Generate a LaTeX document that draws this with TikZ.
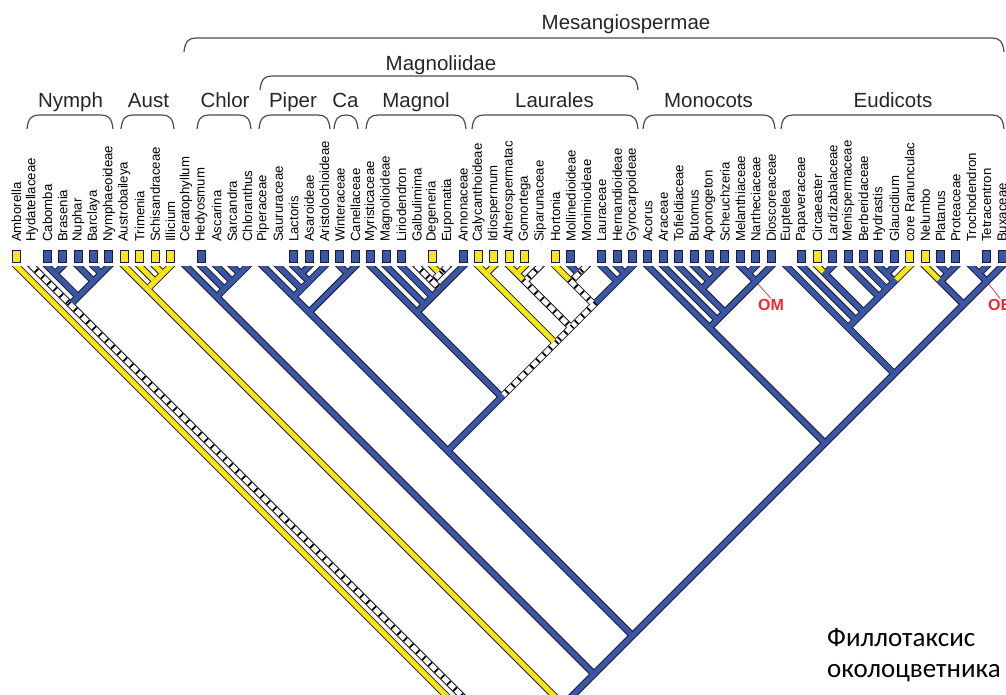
\documentclass[tikz,border=0pt]{standalone}
\usepackage{fontspec}
\setmainfont{Liberation Sans}
\newfontfamily\rufont{Carlito}
\definecolor{brblue}{RGB}{58,86,168}
\definecolor{bryel}{RGB}{248,230,28}
\definecolor{brout}{RGB}{28,28,48}
\definecolor{omred}{RGB}{230,45,55}
\newif\ifoutlinepass
\newcommand\BrDraw[4]{%
  \ifoutlinepass
    \draw[brpath, shorten <=#4, line width=7pt, draw=brout] (#2) -- (#3);
  \else
    \if#1Y\draw[brpath, shorten <=#4, line width=5pt, draw=bryel] (#2) -- (#3);\fi
    \if#1B\draw[brpath, shorten <=#4, line width=5pt, draw=brblue] (#2) -- (#3);\fi
    \if#1H\draw[brpath, shorten <=#4, line width=5pt, draw=white] (#2) -- (#3);
      \draw[brpath, shorten <=#4, line width=5pt, draw=black, dash pattern=on 1.8pt off 7pt] (#2) -- (#3);\fi
  \fi}
\newcommand\Tp[3]{\BrDraw{#1}{t#2}{#3}{-12pt}}
\newcommand\Nd[3]{\BrDraw{#1}{#2}{#3}{-2.5pt}}
\newcommand\Brk[4]{\draw[brk] ({#1},{#4}) .. controls ({#1+1},{#3+3}) and ({#1+5},{#3}) .. ({#1+12},{#3}) -- ({#2-12},{#3}) .. controls ({#2-5},{#3}) and ({#2-1},{#3+3}) .. ({#2},{#4});}
\newcommand\PhyloTree{%
\Tp{Y}{1}{n1-65}
\Nd{H}{n2-65}{n1-65}
\Nd{H}{n2-7}{n2-65}
\Nd{Y}{n8-65}{n2-65}
\Nd{Y}{n8-11}{n8-65}
\Nd{B}{n12-65}{n8-65}
\Tp{H}{2}{n2-7}
\Nd{B}{n3-7}{n2-7}
\Nd{B}{n3-4}{n3-7}
\Nd{B}{n5-7}{n3-7}
\Tp{B}{3}{n3-4}
\Tp{B}{4}{n3-4}
\Tp{B}{5}{n5-7}
\Nd{B}{n6-7}{n5-7}
\Tp{B}{6}{n6-7}
\Tp{B}{7}{n6-7}
\Tp{Y}{8}{n8-11}
\Nd{Y}{n9-11}{n8-11}
\Tp{Y}{9}{n9-11}
\Nd{Y}{n10-11}{n9-11}
\Tp{Y}{10}{n10-11}
\Tp{Y}{11}{n10-11}
\Nd{B}{n12-16}{n12-65}
\Nd{B}{n17-65}{n12-65}
\Tp{B}{12}{n12-16}
\Nd{B}{n13-16}{n12-16}
\Tp{B}{13}{n13-16}
\Nd{B}{n14-16}{n13-16}
\Tp{B}{14}{n14-16}
\Nd{B}{n15-16}{n14-16}
\Tp{B}{15}{n15-16}
\Tp{B}{16}{n15-16}
\Nd{B}{n17-41}{n17-65}
\Nd{B}{n42-65}{n17-65}
\Nd{B}{n17-23}{n17-41}
\Nd{B}{n24-41}{n17-41}
\Nd{B}{n17-21}{n17-23}
\Nd{B}{n22-23}{n17-23}
\Tp{B}{17}{n17-21}
\Nd{B}{n18-21}{n17-21}
\Tp{B}{18}{n18-21}
\Nd{B}{n19-21}{n18-21}
\Nd{B}{n19-20}{n19-21}
\Tp{B}{21}{n19-21}
\Tp{B}{19}{n19-20}
\Tp{B}{20}{n19-20}
\Tp{B}{22}{n22-23}
\Tp{B}{23}{n22-23}
\Nd{B}{n24-30}{n24-41}
\Nd{H}{n31-41}{n24-41}
\Tp{B}{24}{n24-30}
\Nd{B}{n25-30}{n24-30}
\Tp{B}{25}{n25-30}
\Nd{B}{n26-30}{n25-30}
\Tp{B}{26}{n26-30}
\Nd{B}{n27-30}{n26-30}
\Nd{H}{n27-29}{n27-30}
\Tp{B}{30}{n27-30}
\Tp{H}{27}{n27-29}
\Nd{H}{n28-29}{n27-29}
\Tp{Y}{28}{n28-29}
\Tp{H}{29}{n28-29}
\Nd{Y}{n31-32}{n31-41}
\Nd{H}{n33-41}{n31-41}
\Tp{Y}{31}{n31-32}
\Tp{Y}{32}{n31-32}
\Nd{H}{n33-35}{n33-41}
\Nd{H}{n36-41}{n33-41}
\Nd{Y}{n33-34}{n33-35}
\Tp{H}{35}{n33-35}
\Tp{Y}{33}{n33-34}
\Tp{Y}{34}{n33-34}
\Nd{H}{n36-38}{n36-41}
\Nd{B}{n39-41}{n36-41}
\Tp{Y}{36}{n36-38}
\Nd{H}{n37-38}{n36-38}
\Tp{B}{37}{n37-38}
\Tp{H}{38}{n37-38}
\Tp{B}{39}{n39-41}
\Nd{B}{n40-41}{n39-41}
\Tp{B}{40}{n40-41}
\Tp{B}{41}{n40-41}
\Nd{B}{n42-50}{n42-65}
\Nd{B}{n51-65}{n42-65}
\Tp{B}{42}{n42-50}
\Nd{B}{n43-50}{n42-50}
\Tp{B}{43}{n43-50}
\Nd{B}{n44-50}{n43-50}
\Nd{B}{n44-47}{n44-50}
\Nd{B}{n48-50}{n44-50}
\Tp{B}{44}{n44-47}
\Nd{B}{n45-47}{n44-47}
\Tp{B}{45}{n45-47}
\Nd{B}{n46-47}{n45-47}
\Tp{B}{46}{n46-47}
\Tp{B}{47}{n46-47}
\Nd{B}{n48-49}{n48-50}
\Tp{B}{50}{n48-50}
\Tp{B}{48}{n48-49}
\Tp{B}{49}{n48-49}
\Nd{B}{n51-59}{n51-65}
\Nd{B}{n60-65}{n51-65}
\Tp{B}{51}{n51-59}
\Nd{B}{n52-59}{n51-59}
\Tp{B}{52}{n52-59}
\Nd{B}{n53-59}{n52-59}
\Nd{B}{n53-54}{n53-59}
\Nd{B}{n55-59}{n53-59}
\Tp{Y}{53}{n53-54}
\Tp{B}{54}{n53-54}
\Tp{B}{55}{n55-59}
\Nd{B}{n56-59}{n55-59}
\Tp{B}{56}{n56-59}
\Nd{B}{n57-59}{n56-59}
\Nd{B}{n57-58}{n57-59}
\Tp{Y}{59}{n57-59}
\Tp{B}{57}{n57-58}
\Tp{B}{58}{n57-58}
\Nd{B}{n60-62}{n60-65}
\Nd{B}{n63-65}{n60-65}
\Tp{Y}{60}{n60-62}
\Nd{B}{n61-62}{n60-62}
\Tp{B}{61}{n61-62}
\Tp{B}{62}{n61-62}
\Nd{B}{n63-64}{n63-65}
\Tp{B}{65}{n63-65}
\Tp{B}{63}{n63-64}
\Tp{B}{64}{n63-64}
}
\begin{document}
\begin{tikzpicture}[x=1pt,y=-1pt,
  brpath/.style={shorten >=2.5pt, line cap=butt},
  lab/.style={rotate=90, anchor=west, inner sep=0pt, font=\fontsize{13.2}{13.2}\selectfont},
  bx/.style={draw=brout, line width=1.1pt, minimum width=8pt, minimum height=12pt, inner sep=0pt},
  grp/.style={anchor=base, inner sep=0pt, font=\fontsize{20.5}{20.5}\selectfont, text=black!85},
  brk/.style={draw=black!70, line width=1.2pt},
  redlabel/.style={anchor=base west, inner sep=0pt, text=omred, font=\bfseries\fontsize{16}{16}\selectfont},
  lead/.style={draw=omred, line width=0.7pt},
  ru/.style={anchor=base west, inner sep=0pt, font=\rufont\fontsize{27}{27}\selectfont}
]
\useasboundingbox[fill=white] (0,0) rectangle (1006,694);
% tips and nodes
\foreach \i in {1,...,65} \coordinate (t\i) at ({16.5+15.4*(\i-1)},266);
\foreach \a/\b in {1/65,2/65,2/7,3/7,3/4,5/7,6/7,8/65,8/11,9/11,10/11,12/65,12/16,13/16,14/16,15/16,17/65,17/41,17/23,17/21,18/21,19/21,19/20,22/23,24/41,24/30,25/30,26/30,27/30,27/29,28/29,31/41,31/32,33/41,33/35,33/34,36/41,36/38,37/38,39/41,40/41,42/65,42/50,43/50,44/50,44/47,45/47,46/47,48/50,48/49,51/65,51/59,52/59,53/59,53/54,55/59,56/59,57/59,57/58,60/65,60/62,61/62,63/65,63/64}
  \coordinate (n\a-\b) at ({16.5+7.7*(\a+\b-2)},{266+7.7*(\b-\a)});
% red markers (drawn first, so the branches cover their start)
\node[redlabel] (om) at (758,310) {OM};
\node[redlabel] (ob) at (988,310) {OB};
\draw[lead] (n48-50) -- (om.north);
\draw[lead] (n63-65) -- (ob.north);
% tree
\begin{scope}
\clip (0,266) rectangle (1010,700);
\outlinepasstrue \PhyloTree
\outlinepassfalse \PhyloTree
\end{scope}
% boxes
\foreach \i/\c in {1/bryel,3/brblue,4/brblue,5/brblue,6/brblue,7/brblue,8/bryel,9/bryel,10/bryel,11/bryel,13/brblue,19/brblue,20/brblue,21/brblue,22/brblue,23/brblue,24/brblue,25/brblue,26/brblue,28/bryel,30/brblue,31/bryel,32/bryel,33/bryel,34/bryel,36/bryel,37/brblue,39/brblue,40/brblue,41/brblue,42/brblue,43/brblue,44/brblue,45/brblue,46/brblue,47/brblue,48/brblue,49/brblue,50/brblue,52/brblue,53/bryel,54/brblue,55/brblue,56/brblue,57/brblue,58/brblue,59/bryel,60/bryel,61/brblue,62/brblue,64/brblue,65/brblue}
  \node[bx, fill=\c] (b\i) at ({16.5+15.4*(\i-1)},256.5) {};
% taxon labels
\foreach \nm [count=\i] in {Amborella,Hydatellaceae,Cabomba,Brasenia,Nuphar,Barclaya,Nymphaeoideae,Austrobaileya,Trimenia,Schisandraceae,Illicium,Ceratophyllum,Hedyosmum,Ascarina,Sarcandra,Chloranthus,Piperaceae,Saururaceae,Lactoris,Asaroideae,Aristolochioideae,Winteraceae,Canellaceae,Myristicaceae,Magnolioideae,Liriodendron,Galbulimima,Degeneria,Eupomatia,Annonaceae,Calycanthoideae,Idiospermum,Atherospermatac,Gomortega,Siparunaceae,Hortonia,Mollinedioideae,Monimioideae,Lauraceae,Hernandioideae,Gyrocarpoideae,Acorus,Araceae,Tofieldiaceae,Butomus,Aponogeton,Scheuchzeria,Melanthiaceae,Nartheciaceae,Dioscoreaceae,Euptelea,Papaveraceae,Circaeaster,Lardizabalaceae,Menispermaceae,Berberidaceae,Hydrastis,Glaucidium,core Ranunculac,Nelumbo,Platanus,Proteaceae,Trochodendron,Tetracentron,Buxaceae}
  \node[lab] (l\i) at ({16.5+15.4*(\i-1)},242) {\nm};
% brackets
\Brk{27}{113}{115}{129}
\Brk{121}{174}{115}{129}
\Brk{197}{251}{115}{129}
\Brk{259}{330}{115}{129}
\Brk{334}{358}{115}{129}
\Brk{366}{466}{115}{129}
\Brk{472}{638}{115}{129}
\Brk{643}{775}{115}{129}
\Brk{781}{1004}{115}{129}
\Brk{260}{638}{76}{90}
\Brk{184}{1004}{38}{52}
% group labels
\node[grp] (gNy) at (70.5,107.5) {Nymph};
\node[grp] (gAu) at (148.5,107.5) {Aust};
\node[grp] (gCh) at (225,107.5) {Chlor};
\node[grp] (gPi) at (293,107.5) {Piper};
\node[grp] (gCa) at (345.5,107.5) {Ca};
\node[grp] (gMa) at (416,107.5) {Magnol};
\node[grp] (gLa) at (554.5,107.5) {Laurales};
\node[grp] (gMo) at (708.5,107.5) {Monocots};
\node[grp] (gEu) at (893,107.5) {Eudicots};
\node[grp] (gMg) at (441,70) {Magnoliidae};
\node[grp] (gMs) at (626,29) {Mesangiospermae};
% Russian caption
\node[ru] (ru1) at (827,646) {Филлотаксис};
\node[ru] (ru2) at (827,677) {околоцветника};
\end{tikzpicture}
\end{document}
